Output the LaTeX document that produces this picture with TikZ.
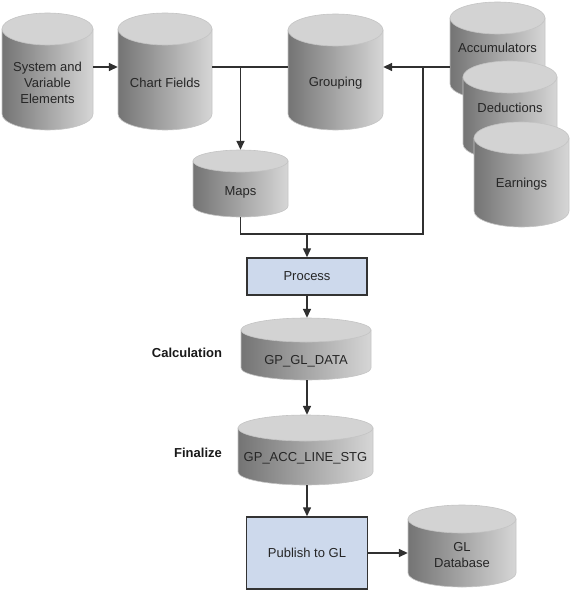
\documentclass[tikz,border=0pt]{standalone}
\usepackage{fontspec}
\setmainfont{Liberation Sans}
\usetikzlibrary{arrows.meta,calc}
\definecolor{cylL}{HTML}{747474}
\definecolor{cylR}{HTML}{D6D6D6}
\definecolor{cylTop}{HTML}{D3D3D3}
\definecolor{cylEdge}{HTML}{C4C4C4}
\definecolor{lineC}{HTML}{303030}
\definecolor{boxFill}{HTML}{CDD9EC}
\definecolor{boxEdge}{HTML}{333333}
\tikzset{
  conn/.style={draw=lineC, line width=1.5pt},
  arr/.style={conn, -{Triangle[length=9pt,width=8pt]}},
  cylbox/.style={inner sep=0pt, draw=none},
  cyltext/.style={align=center, font=\fontsize{13}{16}\selectfont, text=black!85},
  procbox/.style={draw=boxEdge, line width=1.5pt, fill=boxFill, inner sep=0pt,
    font=\fontsize{13}{16}\selectfont, text=black!85},
  lbl/.style={font=\fontsize{13}{16}\selectfont\bfseries, text=black!90}
}
\newcommand\dbcyl[8]{%
  \pgfmathsetmacro\cylrx{#4/2}%
  \pgfmathsetmacro\cylyt{#3+#6}%
  \pgfmathsetmacro\cylyb{#3+#5-#6}%
  \shadedraw[left color=cylL,right color=cylR,draw=cylEdge,line width=0.6pt]
    (#2-\cylrx,\cylyt) -- (#2-\cylrx,\cylyb)
    arc[start angle=180,end angle=360,x radius=\cylrx pt,y radius=#6pt]
    -- (#2+\cylrx,\cylyt) -- cycle;
  \filldraw[fill=cylTop,draw=cylEdge,line width=0.6pt]
    (#2,\cylyt) ellipse[x radius=\cylrx pt,y radius=#6pt];
  \node[cylbox,minimum width=#4pt,minimum height=#5pt] (#1) at (#2,#3+#5/2) {};
  \node[cyltext] (#1-t) at (#2,#8) {#7};
}
\begin{document}
\begin{tikzpicture}[x=1pt,y=-1pt]
\useasboundingbox (0,0) rectangle (571,591);

% cylinders
\dbcyl{sve}{47.5}{13}{91}{117}{16}{System and\\Variable\\Elements}{83}
\dbcyl{cf}{165}{13}{94}{117}{16}{Chart Fields}{83}
\dbcyl{grp}{335.5}{14}{95}{116}{16}{Grouping}{83}
\dbcyl{acc}{497.5}{2}{95}{98}{16}{Accumulators}{48}
\dbcyl{ded}{510}{61}{94}{99}{16}{Deductions}{108}
\dbcyl{ear}{521.5}{122}{95}{105}{16}{Earnings}{184}
\dbcyl{maps}{240.5}{150}{95}{67}{11}{Maps}{192}
\dbcyl{gld}{306}{318}{130}{62}{12}{GP\_GL\_DATA}{361}
\dbcyl{gal}{305.5}{415}{135}{70}{13}{GP\_ACC\_LINE\_STG}{458}
\dbcyl{gldb}{462}{505}{108}{82}{14}{GL\\Database}{555}

% boxes
\node[procbox,minimum width=120pt,minimum height=37pt] (proc) at (307,276.5) {Process};
\node[procbox,minimum width=121pt,minimum height=72pt] (pub) at (307,553) {Publish to GL};

% labels
\node[lbl] (calc) at (187,353) {Calculation};
\node[lbl] (fin) at (198,453) {Finalize};

% helper coordinates
\coordinate (row1) at (0,67);
\coordinate (j2) at (423,234);

% connectors
\draw[arr] (sve.east |- row1) -- (cf.west |- row1);
\draw[conn] (cf.east |- row1) -- (grp.west |- row1);
\draw[arr] (maps.north |- row1) -- (maps.north);
\draw[arr] (acc.west |- row1) -- (grp.east |- row1);
\draw[conn] (maps.south) |- (j2) -- (j2 |- row1);
\draw[arr] (proc.north |- j2) -- (proc.north);
\draw[arr] (proc.south) -- (gld.north -| proc.south);
\draw[arr] (gld.south -| proc.south) -- (gal.north -| proc.south);
\draw[arr] (gal.south -| pub.north) -- (pub.north);
\draw[arr] (pub.east) -- (gldb.west |- pub.east);
\end{tikzpicture}
\end{document}
